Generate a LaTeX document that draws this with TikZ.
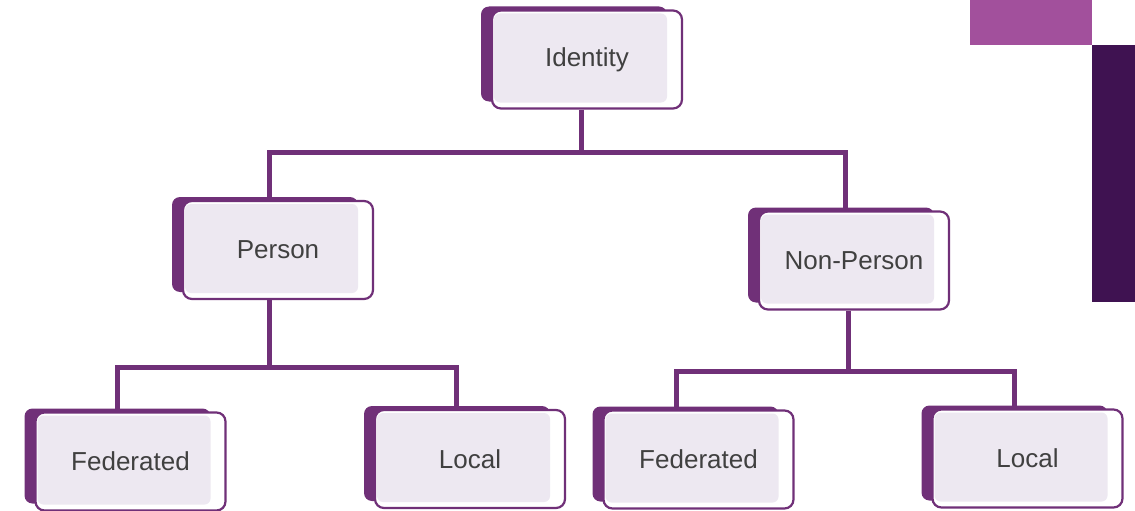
\documentclass[tikz,border=0pt]{standalone}
\usepackage{fontspec}
\setmainfont{Liberation Sans}
\usetikzlibrary{calc}
\definecolor{purp}{HTML}{703078}
\definecolor{lav}{HTML}{EDE8F1}
\definecolor{txt}{HTML}{404040}
\definecolor{pinkdeco}{HTML}{A2509C}
\definecolor{darkdeco}{HTML}{3F1251}
\pgfdeclarelayer{background}
\pgfsetlayers{background,main}
\newcommand\idnode[4]{%
 \fill[purp, rounded corners=8pt] ($(#2,#3)+(-106,-53)$) rectangle ($(#2,#3)+(80,42)$);
 \fill[white, rounded corners=9pt] ($(#2,#3)+(-95,-49)$) rectangle ($(#2,#3)+(95,49)$);
 \fill[lav, rounded corners=6pt] ($(#2,#3)+(-93,-46)$) rectangle ($(#2,#3)+(80,43)$);
 \node[idbox] (#1) at (#2,#3) {#4};
}
\begin{document}
\begin{tikzpicture}[x=1pt,y=-1pt,
  idbox/.style={draw=purp, line width=2.2pt, rounded corners=9pt, minimum width=190pt, minimum height=98pt, inner sep=0pt, text=txt, font=\fontsize{26}{30}\selectfont},
  conn/.style={draw=purp, line width=5pt}]
\useasboundingbox (0,0) rectangle (1135,511);
\fill[pinkdeco] (970,0) rectangle (1092,45);
\fill[darkdeco] (1092,45) rectangle (1135,302);
\idnode{identity}{587}{59.5}{Identity}
\idnode{person}{278}{250}{Person}
\idnode{nonperson}{854}{260.5}{Non-Person}
\idnode{fedL}{130.5}{461.5}{Federated}
\idnode{localL}{470}{459}{Local}
\idnode{fedR}{698.5}{459.5}{Federated}
\idnode{localR}{1027.5}{458.5}{Local}
\begin{pgfonlayer}{background}
\coordinate (b1) at ($(identity.south)+(-6,43)$);
\draw[conn] ([xshift=-6pt]identity.south) -- (b1);
\draw[conn] ([xshift=-9pt]person.north) |- (b1) -| ([xshift=-9pt]nonperson.north);
\coordinate (b2) at ($(person.south)+(-9,67)$);
\draw[conn] ([xshift=-9pt]person.south) -- (b2);
\draw[conn] ([xshift=-13pt]fedL.north) |- (b2) -| ([xshift=-14pt]localL.north);
\coordinate (b3) at ($(nonperson.south)+(-6,61)$);
\draw[conn] ([xshift=-6pt]nonperson.south) -- (b3);
\draw[conn] ([xshift=-22pt]fedR.north) |- (b3) -| ([xshift=-13pt]localR.north);
\end{pgfonlayer}
\end{tikzpicture}
\end{document}
